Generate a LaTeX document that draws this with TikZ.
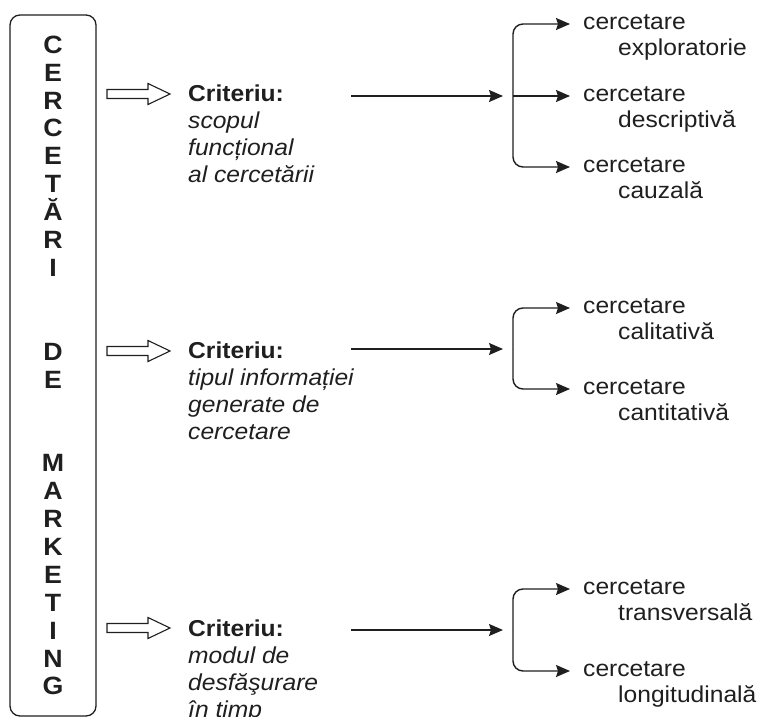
\documentclass[tikz,border=0pt]{standalone}
\usepackage{fontspec}
\setmainfont{Liberation Sans}[FakeStretch=1.07]
\usetikzlibrary{positioning,arrows.meta,calc}
\colorlet{ink}{black!88}
\tikzset{
  title/.style={draw=ink, line width=1.3pt, rounded corners=10pt, minimum width=86pt,
    minimum height=701pt, inner sep=0pt, align=center, text=ink,
    font=\fontsize{25}{27.9}\selectfont\bfseries},
  hollowarr/.pic={
    \draw[ink, line width=1.1pt, line join=miter]
      (0,-4.5) -- (41,-4.5) -- (41,-10.5) -- (63,0) -- (41,10.5) -- (41,4.5) -- (0,4.5) -- cycle;
  },
  crit/.style={anchor=north west, inner sep=0pt, align=left, text=ink,
    font=\fontsize{23}{27}\selectfont},
  res/.style={anchor=north west, inner sep=0pt, align=left, text=ink,
    font=\fontsize{23}{26}\selectfont},
  flow/.style={-{Stealth[length=14pt, width=12pt, inset=2pt]}, line width=1.4pt, draw=ink},
  branch/.style={flow, rounded corners=10pt},
}
\newcommand{\ind}{\hspace*{35pt}}
\begin{document}
\begin{tikzpicture}[x=1pt, y=-1pt]
  \useasboundingbox (0,0) rectangle (761,717);
  % left column
  \node[title] (cm) at (53,365.5) {C\\E\\R\\C\\E\\T\\Ă\\R\\I\\[55.8pt]D\\E\\[55.8pt]M\\A\\R\\K\\E\\T\\I\\N\\G};
  % criteria
  \pic (h1) at (107,94) {hollowarr};
  \pic (h2) at (107,351) {hollowarr};
  \pic (h3) at (107,628) {hollowarr};
  \node[crit] (c1) at (188,85) {\textbf{Criteriu:}\\\textit{scopul}\\\textit{funcțional}\\\textit{al cercetării}};
  \node[crit] (c2) at (188,342) {\textbf{Criteriu:}\\\textit{tipul informației}\\\textit{generate de}\\\textit{cercetare}};
  \node[crit] (c3) at (188,620) {\textbf{Criteriu:}\\\textit{modul de}\\\textit{desfăşurare}\\\textit{în timp}};
  % results
  \node[res] (r11) at (583,14) {cercetare\\\ind exploratorie};
  \node[res] (r12) at (583,86) {cercetare\\\ind descriptivă};
  \node[res] (r13) at (583,157) {cercetare\\\ind cauzală};
  \node[res] (r21) at (583,298) {cercetare\\\ind calitativă};
  \node[res] (r22) at (583,379) {cercetare\\\ind cantitativă};
  \node[res] (r31) at (583,579) {cercetare\\\ind transversală};
  \node[res] (r32) at (583,661) {cercetare\\\ind longitudinală};
  % arrows
  \coordinate (s1) at (351,96);  \coordinate (b1) at (513,96);
  \coordinate (s2) at (351,349); \coordinate (b2) at (513,349);
  \coordinate (s3) at (351,630); \coordinate (b3) at (513,630);
  \draw[flow] (s1) -- ($(b1)+(-10,0)$);
  \draw[flow] (s2) -- ($(b2)+(-10,0)$);
  \draw[flow] (s3) -- ($(b3)+(-10,0)$);
  \draw[branch] (b1) |- ($(r11.north west)+(-13,10)$);
  \draw[flow] (b1) -- ($(r12.north west)+(-13,10)$);
  \draw[branch] (b1) |- ($(r13.north west)+(-13,10)$);
  \draw[branch] (b2) |- ($(r21.north west)+(-13,10)$);
  \draw[branch] (b2) |- ($(r22.north west)+(-13,10)$);
  \draw[branch] (b3) |- ($(r31.north west)+(-13,10)$);
  \draw[branch] (b3) |- ($(r32.north west)+(-13,10)$);
\end{tikzpicture}
\end{document}
